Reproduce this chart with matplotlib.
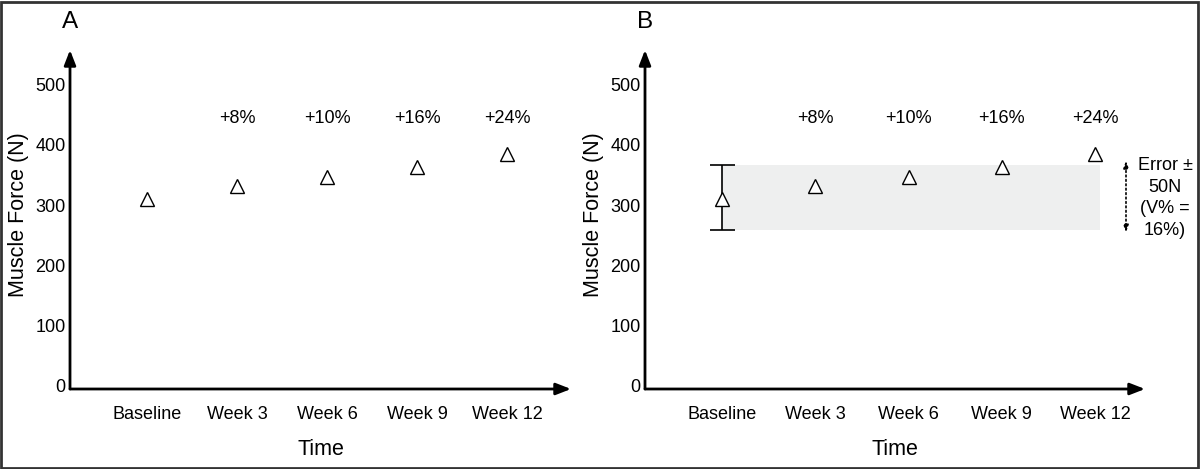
import matplotlib
matplotlib.use("Agg")
import matplotlib.pyplot as plt
from matplotlib.patches import Rectangle

plt.rcParams["font.family"] = ["Liberation Sans", "DejaVu Sans"]

# ---- data ----
timepoints = ["Baseline", "Week 3", "Week 6", "Week 9", "Week 12"]
force = [310, 332, 347, 363, 385]
pct_change = ["", "+8%", "+10%", "+16%", "+24%"]
yticks = [0, 100, 200, 300, 400, 500]
err_low, err_high = 259, 367          # baseline error bar / shaded band (N)
err_text = "Error \u00b1\n50N\n(V% =\n16%)"

W, H = 1200, 469
fig = plt.figure(figsize=(W / 100, H / 100), dpi=100)


def px_axes(x0, x1, y_top, y_bot):
    # axes placed by pixel box (y measured from top)
    return fig.add_axes([x0 / W, 1 - y_bot / H, (x1 - x0) / W, (y_bot - y_top) / H])


def setup(ax, x_first, step, x0, x1, label):
    ax.set_xlim(-(x_first - x0) / step, (x1 - x_first) / step)
    ax.set_ylim(-5, 557)
    for s in ax.spines.values():
        s.set_visible(False)
    ax.set_facecolor("none")
    ax.annotate("", xy=(1, 0), xytext=(0, 0), xycoords="axes fraction",
                arrowprops=dict(arrowstyle="-|>,head_length=0.9,head_width=0.35",
                                lw=2, color="black", shrinkA=0, shrinkB=0))
    ax.annotate("", xy=(0, 1), xytext=(0, 0), xycoords="axes fraction",
                arrowprops=dict(arrowstyle="-|>,head_length=0.9,head_width=0.35",
                                lw=2, color="black", shrinkA=0, shrinkB=0))
    ax.set_yticks(yticks)
    ax.set_yticklabels([str(v) for v in yticks], fontsize=13)
    ax.set_xticks(range(len(timepoints)))
    ax.set_xticklabels(timepoints, fontsize=13)
    ax.tick_params(axis="y", length=0, pad=3)
    ax.tick_params(axis="x", length=0, pad=12)
    ax.set_xlabel("Time", fontsize=15.5, labelpad=12)
    ax.set_ylabel("Muscle Force (N)", fontsize=15.5)
    ax.yaxis.set_label_coords(-(x0 - 29) / (x1 - x0), 0.515)
    ax.text(ax.get_xlim()[0], 604, label, fontsize=17.5, ha="center",
            va="center", clip_on=False)
    xs = range(len(timepoints))
    ax.plot(xs, force, linestyle="none", marker="^", markersize=10,
            markerfacecolor="white", markeredgecolor="black",
            markeredgewidth=1, zorder=4)
    for i, t in enumerate(pct_change):
        if t:
            ax.text(i, 444, t, fontsize=13, ha="center", va="center")


# Panel A
axA = px_axes(70, 571, 50, 389)
setup(axA, 147, 90, 70, 571, "A")

# Panel B
axB = px_axes(645, 1145, 50, 389)
stepB = 93.25
setup(axB, 722, stepB, 645, 1145, "B")
axB.yaxis.set_label_coords(-(645 - 604) / 500, 0.515)
band_right = (1100 - 722) / stepB
axB.add_patch(Rectangle((0, err_low), band_right, err_high - err_low,
                        facecolor="#eeefef", edgecolor="none", zorder=1))
axB.errorbar([0], [(err_low + err_high) / 2], yerr=[(err_high - err_low) / 2],
             fmt="none", ecolor="black", elinewidth=1.2, capsize=9,
             capthick=1.2, zorder=3)
xa = (1126 - 722) / stepB
axB.annotate("", xy=(xa, err_high + 6), xytext=(xa, err_low - 4),
             xycoords="data", annotation_clip=False,
             arrowprops=dict(arrowstyle="<|-|>,head_length=0.4,head_width=0.15",
                             lw=1.2, linestyle=":", color="black",
                             shrinkA=0, shrinkB=0))
axB.text((1165 - 722) / stepB, 312, err_text, fontsize=13, ha="center",
         va="center", linespacing=1.35, clip_on=False)

# figure border
fig.patches.append(Rectangle((0.5 / W, 1 / H), 1 - 2.5 / W, 1 - 3 / H,
                             transform=fig.transFigure, fill=False,
                             edgecolor="#333333", lw=2))

fig.savefig("out.png", dpi=100)
